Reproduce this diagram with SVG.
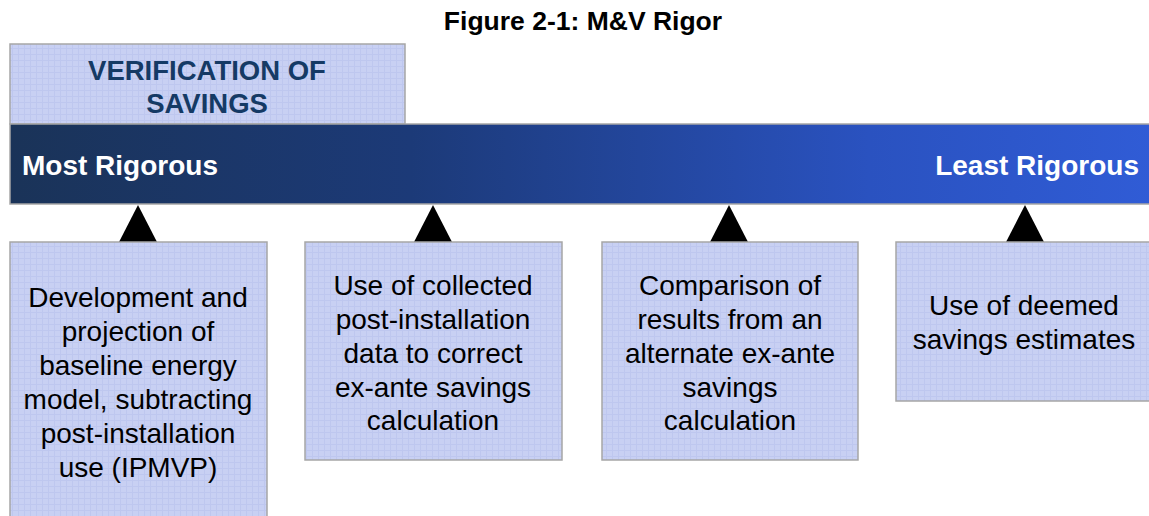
<svg xmlns="http://www.w3.org/2000/svg" width="1149" height="516" viewBox="0 0 1149 516">
<style>
.box{fill:url(#grid);stroke:#a6a6a6;stroke-width:1.5}
.bt{font-family:"Liberation Sans",Arial,sans-serif;font-size:28px;fill:#000;text-anchor:middle}
.tri{fill:#000}
</style>
<defs>
<pattern id="grid" width="6" height="6" patternUnits="userSpaceOnUse">
<rect width="6" height="6" fill="#c8d0f3"/>
<path d="M0 0.5H6M0.5 0V6" stroke="#bec7ef" stroke-width="1"/>
</pattern>
<linearGradient id="bar" x1="0" y1="0" x2="1" y2="0">
<stop offset="0" stop-color="#1a3358"/>
<stop offset="0.35" stop-color="#1c3a78"/>
<stop offset="0.75" stop-color="#2a52c0"/>
<stop offset="1" stop-color="#305cd6"/>
</linearGradient>
</defs>
<rect width="1149" height="516" fill="#fff"/>
<text x="583" y="30" font-family="Liberation Sans,Arial,sans-serif" font-size="26.5" font-weight="bold" text-anchor="middle" fill="#000">Figure 2-1: M&amp;V Rigor</text>
<g id="header">
<rect class="box" x="10" y="44" width="395" height="80"/>
<text x="207" y="80" font-family="Liberation Sans,Arial,sans-serif" font-size="27.5" font-weight="bold" text-anchor="middle" fill="#153a65">VERIFICATION OF</text>
<text x="207" y="113" font-family="Liberation Sans,Arial,sans-serif" font-size="27.5" font-weight="bold" text-anchor="middle" fill="#153a65">SAVINGS</text>
</g>
<g id="scale">
<rect x="10" y="124" width="1145" height="80" fill="url(#bar)" stroke="#a6a6a6" stroke-width="1.5"/>
<text x="22" y="175" font-family="Liberation Sans,Arial,sans-serif" font-size="28" font-weight="bold" fill="#fff">Most Rigorous</text>
<text x="1139" y="175" font-family="Liberation Sans,Arial,sans-serif" font-size="28" font-weight="bold" fill="#fff" text-anchor="end">Least Rigorous</text>
</g>
<g id="connectors">
<polygon class="tri" points="138,205 119,242 157,242"/>
<polygon class="tri" points="433,205 414,242 452,242"/>
<polygon class="tri" points="729,205 710,242 748,242"/>
<polygon class="tri" points="1025,205 1006,242 1044,242"/>
</g>
<g id="box1">
<rect class="box" x="10" y="242" width="257" height="285"/>
<text class="bt" x="138" y="307">Development and</text>
<text class="bt" x="138" y="341">projection of</text>
<text class="bt" x="138" y="375">baseline energy</text>
<text class="bt" x="138" y="409">model, subtracting</text>
<text class="bt" x="138" y="443">post-installation</text>
<text class="bt" x="138" y="477">use (IPMVP)</text>
</g>
<g id="box2">
<rect class="box" x="305" y="242" width="257" height="218"/>
<text class="bt" x="433" y="295">Use of collected</text>
<text class="bt" x="433" y="329">post-installation</text>
<text class="bt" x="433" y="363">data to correct</text>
<text class="bt" x="433" y="397">ex-ante savings</text>
<text class="bt" x="433" y="430">calculation</text>
</g>
<g id="box3">
<rect class="box" x="602" y="242" width="256" height="218"/>
<text class="bt" x="730" y="295">Comparison of</text>
<text class="bt" x="730" y="329">results from an</text>
<text class="bt" x="730" y="363">alternate ex-ante</text>
<text class="bt" x="730" y="397">savings</text>
<text class="bt" x="730" y="430">calculation</text>
</g>
<g id="box4">
<rect class="box" x="896" y="242" width="260" height="159"/>
<text class="bt" x="1024" y="315">Use of deemed</text>
<text class="bt" x="1024" y="349">savings estimates</text>
</g>
</svg>
